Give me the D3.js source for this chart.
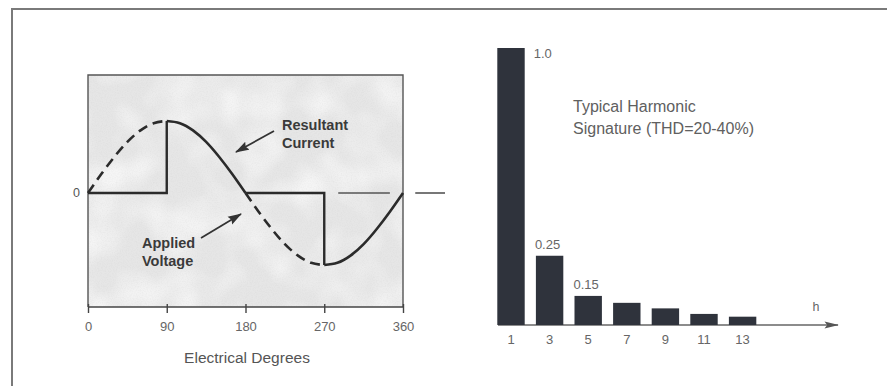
<!DOCTYPE html>
<html>
<head>
<meta charset="utf-8">
<script src="https://cdn.jsdelivr.net/npm/d3@7"></script>
<style>
  html, body { margin: 0; padding: 0; background: #fff; }
  svg { display: block; }
  text { font-family: "Liberation Sans", Arial, sans-serif; }
</style>
</head>
<body>
<svg id="chart" width="887" height="386"></svg>
<script>
// ---------------- data ----------------
// Left panel: waveform samples (electrical degrees, per-unit)
const degreeTicks = [0, 90, 180, 270, 360];
const voltageDeg = [0, 15, 30, 45, 60, 75, 90, 105, 120, 135, 150, 165, 180, 195, 210, 225, 240, 255, 270, 285, 300, 315, 330, 345, 360];
const voltageVal = [0, 0.26, 0.5, 0.71, 0.87, 0.97, 1.0, 0.97, 0.87, 0.71, 0.5, 0.26, 0, -0.26, -0.5, -0.71, -0.87, -0.97, -1.0, -0.97, -0.87, -0.71, -0.5, -0.26, 0];
// Resultant current: zero except during the conduction windows 90-180 and 270-360
const currentOn = [[90, 180], [270, 360]];
const zeroRefSegments = [[286, 345], [374, 408]];
const annotResultant = ["Resultant", "Current"];
const annotApplied = ["Applied", "Voltage"];
const xTitle = "Electrical Degrees";

// Right panel: harmonic spectrum
const harmonics = ["1", "3", "5", "7", "9", "11", "13"];
const magnitudes = [1.0, 0.25, 0.105, 0.08, 0.06, 0.04, 0.03];
const valueLabels = [{h: "1", text: "1.0"}, {h: "3", text: "0.25"}, {h: "5", text: "0.15"}];
const spectrumTitle = ["Typical Harmonic", "Signature (THD=20-40%)"];
const axisName = "h";

// ---------------- drawing ----------------
const svg = d3.select("#chart");
const defs = svg.append("defs");

// grain texture for the shaded plot box
const f = defs.append("filter").attr("id", "grain").attr("x", 0).attr("y", 0).attr("width", 1).attr("height", 1);
f.append("feTurbulence").attr("type", "fractalNoise").attr("baseFrequency", 0.8).attr("numOctaves", 2).attr("seed", 3).attr("result", "n");
f.append("feColorMatrix").attr("in", "n").attr("type", "matrix")
  .attr("values", "0 0 0 0 0.5  0 0 0 0 0.5  0 0 0 0 0.5  0 0 0 -1.8 1.1");
const f2 = defs.append("filter").attr("id", "blot").attr("x", 0).attr("y", 0).attr("width", 1).attr("height", 1);
f2.append("feTurbulence").attr("type", "fractalNoise").attr("baseFrequency", 0.025).attr("numOctaves", 2).attr("seed", 7).attr("result", "n");
f2.append("feColorMatrix").attr("in", "n").attr("type", "matrix")
  .attr("values", "0 0 0 0 1  0 0 0 0 1  0 0 0 0 1  0 0 0 -2.4 1.5");

defs.append("marker").attr("id", "ah").attr("viewBox", "0 0 14 10").attr("refX", 13).attr("refY", 5)
  .attr("markerWidth", 14).attr("markerHeight", 10).attr("markerUnits", "userSpaceOnUse").attr("orient", "auto")
  .append("path").attr("d", "M0,0.5 L14,5 L0,9.5 L2,5 Z").attr("fill", "#333");
defs.append("marker").attr("id", "ah2").attr("viewBox", "0 0 16 10").attr("refX", 15).attr("refY", 5)
  .attr("markerWidth", 16).attr("markerHeight", 9).attr("markerUnits", "userSpaceOnUse").attr("orient", "auto")
  .append("path").attr("d", "M0,1 L16,5 L0,9 L3,5 Z").attr("fill", "#555");

// outer frame (top & left edges)
svg.append("path").attr("d", "M12,386 L12,9 L887,9").attr("fill", "none").attr("stroke", "#7a7a7a").attr("stroke-width", 2);

// ---- left panel ----
const x = d3.scaleLinear().domain([0, 360]).range([88, 403]);
const y = d3.scaleLinear().domain([-1, 1]).range([265, 121]);
const boxTop = 75, axisY = 307;

svg.append("rect").attr("x", x(0)).attr("y", boxTop).attr("width", x(360) - x(0)).attr("height", axisY - boxTop)
  .attr("fill", "#e6e6e6");
svg.append("rect").attr("x", x(0)).attr("y", boxTop).attr("width", x(360) - x(0)).attr("height", axisY - boxTop)
  .attr("filter", "url(#blot)").attr("opacity", 0.6);
svg.append("rect").attr("x", x(0)).attr("y", boxTop).attr("width", x(360) - x(0)).attr("height", axisY - boxTop)
  .attr("filter", "url(#grain)").attr("opacity", 0.15);
svg.append("path")
  .attr("d", `M${x(0)},${axisY} L${x(0)},${boxTop} L${x(360)},${boxTop} L${x(360)},${axisY}`)
  .attr("fill", "none").attr("stroke", "#555").attr("stroke-width", 1.4);

// x axis
const xAxis = d3.axisBottom(x).tickValues(degreeTicks).tickSize(6).tickPadding(9).tickFormat(d3.format("d"));
const gx = svg.append("g").attr("transform", `translate(0,${axisY})`).call(xAxis);
gx.select(".domain").attr("stroke", "#444").attr("stroke-width", 1.6).attr("d", `M${x(0)},0 H${x(360)}`);
gx.selectAll(".tick line").attr("stroke", "#444").attr("stroke-width", 1.4).attr("y1", -3);
gx.selectAll(".tick text").attr("fill", "#666").attr("font-size", 13)
  .style("font-family", "'Liberation Sans', Arial, sans-serif");

svg.append("text").attr("x", 247).attr("y", 363).attr("text-anchor", "middle")
  .attr("font-size", 15.5).attr("fill", "#555").text(xTitle);
svg.append("text").attr("x", x(0) - 8).attr("y", y(0)).attr("dy", "0.35em").attr("text-anchor", "end")
  .attr("font-size", 12.5).attr("fill", "#555").text("0");

const pts = voltageDeg.map((d, i) => [d, voltageVal[i]]);
const line = d3.line().x(d => x(d[0])).y(d => y(d[1])).curve(d3.curveNatural);
const seg = (a, b) => pts.filter(p => p[0] >= a && p[0] <= b);

// applied voltage, dashed where the current is zero
[[0, 90], [180, 270]].forEach(([a, b]) => {
  svg.append("path").attr("d", line(seg(a, b))).attr("fill", "none")
    .attr("stroke", "#2b2b2b").attr("stroke-width", 2.6).attr("stroke-dasharray", "10,6");
});

// resultant current (solid)
const p1 = seg(currentOn[0][0], currentOn[0][1]);
svg.append("path")
  .attr("d", `M${x(0)},${y(0)} L${x(currentOn[0][0])},${y(0)} L${x(p1[0][0])},${y(p1[0][1])}`)
  .attr("fill", "none").attr("stroke", "#2b2b2b").attr("stroke-width", 2.4);
svg.append("path").attr("d", line(p1)).attr("fill", "none").attr("stroke", "#2b2b2b").attr("stroke-width", 2.6);
const p2 = seg(currentOn[1][0], currentOn[1][1]);
svg.append("path")
  .attr("d", `M${x(currentOn[0][1])},${y(0)} L${x(currentOn[1][0])},${y(0)} L${x(p2[0][0])},${y(p2[0][1])}`)
  .attr("fill", "none").attr("stroke", "#2b2b2b").attr("stroke-width", 2.4);
svg.append("path").attr("d", line(p2)).attr("fill", "none").attr("stroke", "#2b2b2b").attr("stroke-width", 2.6);

// zero reference dashes after the cycle
zeroRefSegments.forEach(([a, b]) => {
  svg.append("line").attr("x1", x(a)).attr("x2", x(b)).attr("y1", y(0)).attr("y2", y(0))
    .attr("stroke", "#555").attr("stroke-width", 1.6);
});

// annotations
const annot = (lines, tx, ty) => {
  const t = svg.append("text").attr("x", tx).attr("y", ty).attr("font-size", 14.5).attr("fill", "#3a3a3a")
    .style("font-weight", "bold");
  lines.forEach((s, i) => t.append("tspan").attr("x", tx).attr("dy", i ? 18 : 0).text(s));
};
annot(annotResultant, 282, 130);
annot(annotApplied, 142, 248);
svg.append("line").attr("x1", 274).attr("y1", 131).attr("x2", 236).attr("y2", 152)
  .attr("stroke", "#333").attr("stroke-width", 1.8).attr("marker-end", "url(#ah)");
svg.append("line").attr("x1", 201).attr("y1", 238).attr("x2", 241).attr("y2", 214)
  .attr("stroke", "#333").attr("stroke-width", 1.8).attr("marker-end", "url(#ah)");

// ---- right panel ----
const step = 38.6;
const bx = d3.scaleBand().domain(harmonics).range([511 - step / 2, 511 - step / 2 + step * harmonics.length])
  .paddingInner(0.29).paddingOuter(0.145);
const by = d3.scaleLinear().domain([0, 1]).range([325, 48]);

// axis with arrow
svg.append("line").attr("x1", 498).attr("x2", 838).attr("y1", by(0)).attr("y2", by(0))
  .attr("stroke", "#666").attr("stroke-width", 1.5).attr("marker-end", "url(#ah2)");

svg.selectAll("rect.bar").data(harmonics).enter().append("rect").attr("class", "bar")
  .attr("x", d => bx(d)).attr("width", bx.bandwidth())
  .attr("y", (d, i) => by(magnitudes[i])).attr("height", (d, i) => by(0) - by(magnitudes[i]))
  .attr("fill", "#2f333c");

const bAxis = d3.axisBottom(bx).tickSize(0).tickPadding(10);
const gb = svg.append("g").attr("transform", `translate(0,${by(0)})`).call(bAxis);
gb.select(".domain").remove();
gb.selectAll(".tick text").attr("fill", "#666").attr("font-size", 13)
  .style("font-family", "'Liberation Sans', Arial, sans-serif");

valueLabels.forEach(v => {
  const i = harmonics.indexOf(v.h);
  const isFirst = i === 0;
  svg.append("text")
    .attr("x", isFirst ? bx(v.h) + bx.bandwidth() + 9 : bx(v.h) - 1)
    .attr("y", isFirst ? by(magnitudes[i]) + 5 : by(magnitudes[i]) - 11)
    .attr("dy", "0.35em").attr("font-size", 13).attr("fill", "#666").text(v.text);
});

svg.append("text").attr("x", 816).attr("y", 307).attr("dy", "0.35em").attr("text-anchor", "middle")
  .attr("font-size", 12.5).attr("fill", "#666").text(axisName);

const tt = svg.append("text").attr("x", 573).attr("y", 112).attr("font-size", 16).attr("fill", "#606060");
spectrumTitle.forEach((s, i) => tt.append("tspan").attr("x", 573).attr("dy", i ? 22 : 0).text(s));
</script>
</body>
</html>
